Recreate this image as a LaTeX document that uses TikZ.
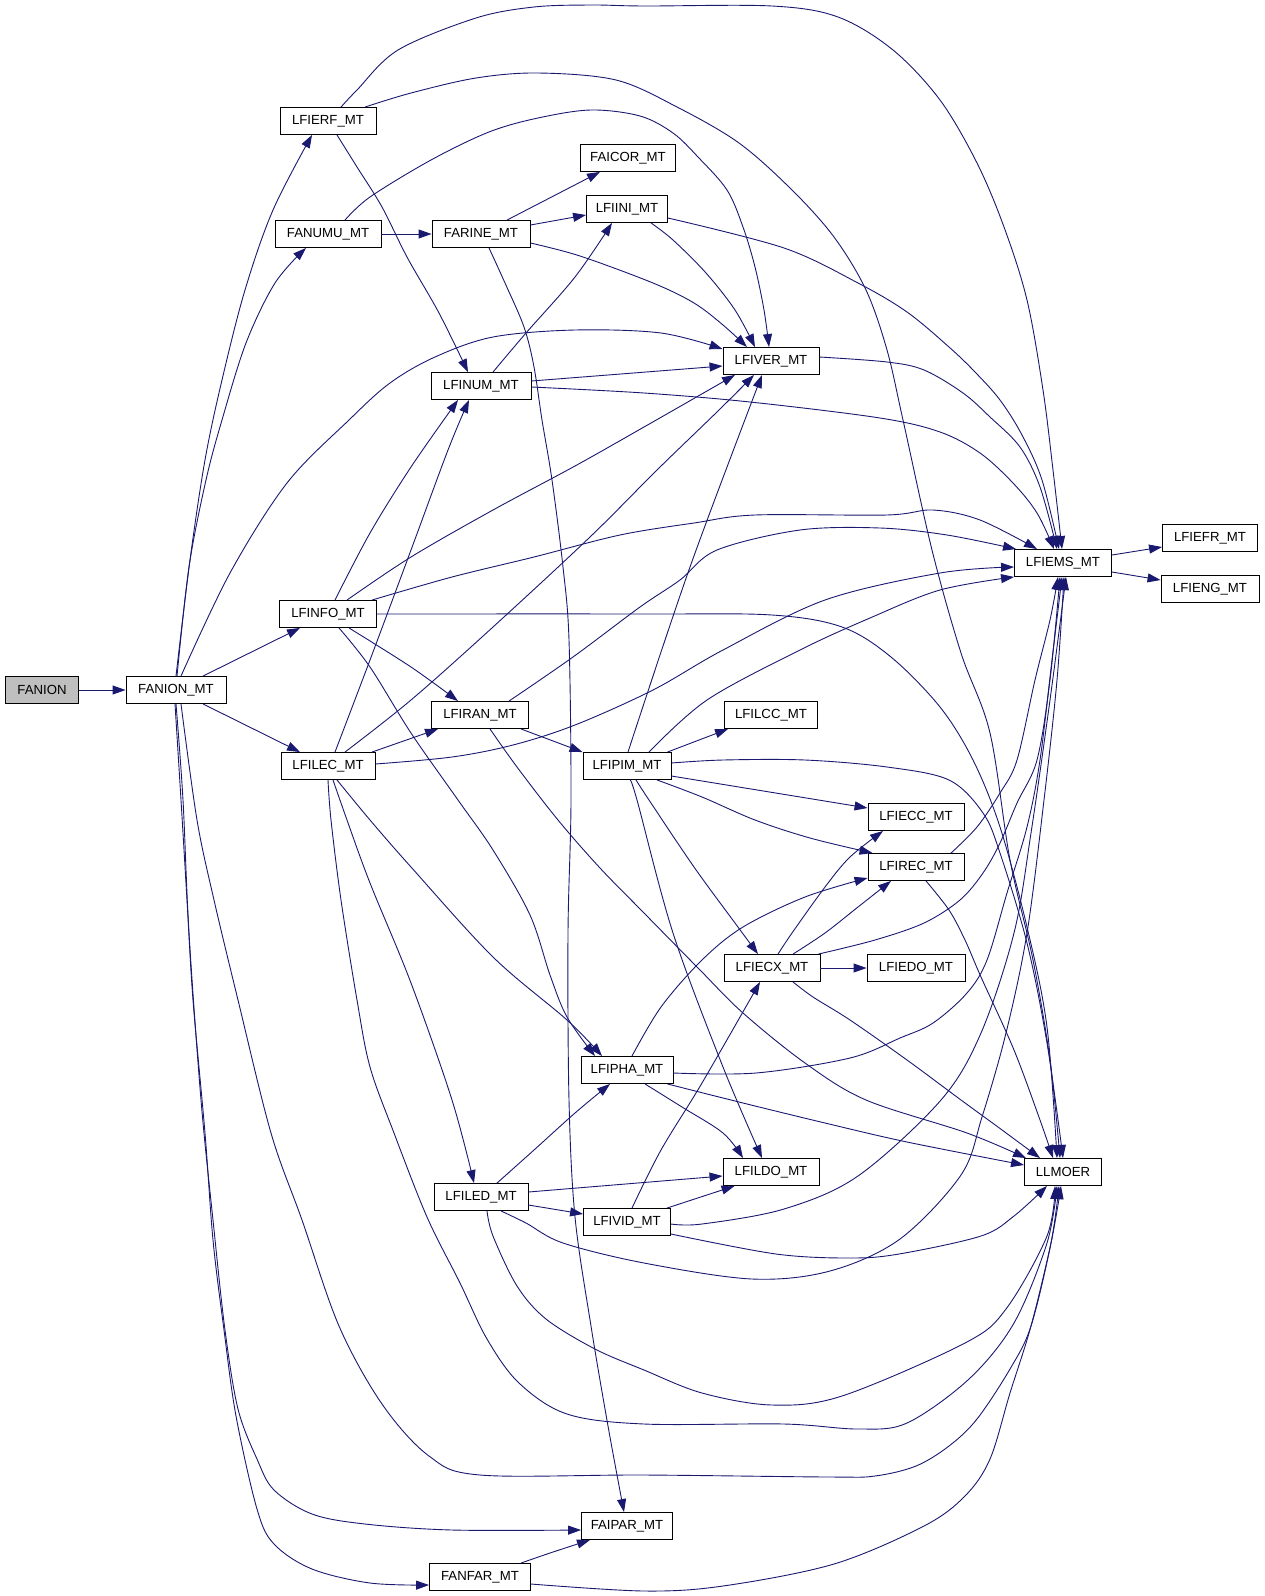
\documentclass[tikz,border=0pt]{standalone}
\usepackage{fontspec}
\setmainfont{Liberation Sans}
\usetikzlibrary{arrows.meta}
\definecolor{edgeblue}{HTML}{191970}
\definecolor{rootgray}{HTML}{BFBFBF}
\begin{document}
\begin{tikzpicture}[x=1pt,y=-1pt,
  fn/.style={draw=black, fill=white, line width=0.9pt, minimum height=27pt,
    inner xsep=2pt, inner ysep=0pt, font=\fontsize{13.2}{15}\selectfont, anchor=center},
  e/.style={draw=edgeblue, line width=0.9pt, -{Triangle[length=13pt,width=9pt]}},
  sm/.style={smooth, tension=0.55}]
\useasboundingbox (0,0) rectangle (1264,1596);
% nodes
\node[fn, minimum width=73pt, fill=rootgray] (fanion) at (42,690) {FANION};
\node[fn, minimum width=100pt] (fanionmt) at (176,690) {FANION\_MT};
\node[fn, minimum width=96pt] (lfierf) at (328,121) {LFIERF\_MT};
\node[fn, minimum width=106pt] (fanumu) at (328,234) {FANUMU\_MT};
\node[fn, minimum width=98pt] (farine) at (481,234) {FARINE\_MT};
\node[fn, minimum width=95pt] (faicor) at (628,158) {FAICOR\_MT};
\node[fn, minimum width=81pt] (lfiini) at (627,209) {LFIINI\_MT};
\node[fn, minimum width=96pt] (lfiver) at (771,361) {LFIVER\_MT};
\node[fn, minimum width=100pt] (lfinum) at (481,386) {LFINUM\_MT};
\node[fn, minimum width=97pt] (lfiems) at (1063,563) {LFIEMS\_MT};
\node[fn, minimum width=95pt] (lfiefr) at (1210,538) {LFIEFR\_MT};
\node[fn, minimum width=98pt] (lfieng) at (1210,589) {LFIENG\_MT};
\node[fn, minimum width=97pt] (lfinfo) at (328,614) {LFINFO\_MT};
\node[fn, minimum width=97pt] (lfiran) at (480,715) {LFIRAN\_MT};
\node[fn, minimum width=94pt] (lfilec) at (328,766) {LFILEC\_MT};
\node[fn, minimum width=93pt] (lfilcc) at (771,715) {LFILCC\_MT};
\node[fn, minimum width=88pt] (lfipim) at (627,766) {LFIPIM\_MT};
\node[fn, minimum width=96pt] (lfiecc) at (916,817) {LFIECC\_MT};
\node[fn, minimum width=96pt] (lfirec) at (916,867) {LFIREC\_MT};
\node[fn, minimum width=96pt] (lfiecx) at (772,968) {LFIECX\_MT};
\node[fn, minimum width=98pt] (lfiedo) at (916,968) {LFIEDO\_MT};
\node[fn, minimum width=92pt] (lfipha) at (627,1070) {LFIPHA\_MT};
\node[fn, minimum width=77pt] (llmoer) at (1063,1172) {LLMOER};
\node[fn, minimum width=96pt] (lfildo) at (771,1172) {LFILDO\_MT};
\node[fn, minimum width=94pt] (lfiled) at (481,1197) {LFILED\_MT};
\node[fn, minimum width=87pt] (lfivid) at (627,1222) {LFIVID\_MT};
\node[fn, minimum width=91pt] (faipar) at (627,1526) {FAIPAR\_MT};
\node[fn, minimum width=101pt] (fanfar) at (480,1577) {FANFAR\_MT};
% edges from FANION / FANION_MT
\draw[e] (fanion) -- (fanionmt);
\draw[e] plot[sm] coordinates {(fanionmt.north) (190,560) (205,460) (222,380) (245,290) (273,210) ([xshift=-16pt]lfierf.south)};
\draw[e] plot[sm] coordinates {([xshift=1pt]fanionmt.north) (189,567) (206,480) (222,420) (246,343) (275,283) ([xshift=-22pt]fanumu.south)};
\draw[e] plot[sm] coordinates {([xshift=5pt]fanionmt.north) (230,573) (287,483) (349,420) (390,383) (435,357) (493,337) (575,330) (661,333) ([yshift=-2pt]lfiver.north west)};
\draw[e] ([xshift=27pt]fanionmt.north) -- ([xshift=-28pt]lfinfo.south);
\draw[e] ([xshift=27pt]fanionmt.south) -- ([xshift=-28pt]lfilec.north);
\draw[e] plot[sm] coordinates {([xshift=5pt]fanionmt.south) (197,820) (214,900) (238,1000) (271,1133) (302,1220) (339,1326) (382,1404) (429,1456) (480,1475) (644,1475) (829,1477) (875,1476) (916,1466) (949,1446) (977,1419) (1010,1369) (1031,1326) (1051,1243) ([xshift=-4pt]llmoer.south)};
\draw[e] plot[sm] coordinates {(fanionmt.south) (183,800) (189,933) (201,1100) (213,1220) (225,1330) (238,1409) (257,1459) (274,1490) (312,1514) (365,1524) (452,1530) ([yshift=-4pt]faipar.west)};
\draw[e] plot[sm] coordinates {([xshift=-1pt]fanionmt.south) (181,800) (187,900) (193,1000) (205,1133) (213,1240) (224,1330) (236,1416) (257,1509) (274,1544) (312,1569) (370,1583) ([yshift=-8pt]fanfar.west)};
% LFIERF
\draw[e] plot[sm] coordinates {([xshift=13pt]lfierf.north) (357,90) (398,50) (476,18) (534,7) (591,5) (644,6) (772,6) (838,17) (893,50) (940,100) (977,163) (1004,227) (1027,300) (1043,390) (1053,470) ([xshift=-1pt]lfiems.north)};
\draw[e] plot[sm] coordinates {([xshift=37pt]lfierf.north) (411,93) (476,78) (538,73) (616,80) (677,107) (739,143) (792,190) (834,237) (866,290) (887,350) (903,420) (932,550) (961,653) (990,733) (1010,860) (1033,960) (1050,1060) ([xshift=-3pt]llmoer.north)};
\draw[e] plot[sm] coordinates {([xshift=9pt]lfierf.south) (357,167) (382,207) (407,257) (439,313) ([xshift=-13pt]lfinum.north)};
% FANUMU
\draw[e] (fanumu) -- (farine);
\draw[e] plot[sm] coordinates {([xshift=17pt]fanumu.north) (370,197) (431,160) (489,132) (538,118) (591,110) (640,116) (673,133) (698,157) (727,190) (743,227) (755,267) (764,310) ([xshift=-2pt]lfiver.north)};
% FARINE
\draw[e] ([xshift=26pt]farine.north) -- ([xshift=-28pt]faicor.south);
\draw[e] ([yshift=9pt]farine.east) -- ([yshift=-6pt]lfiini.west);
\draw[e] plot[sm] coordinates {([yshift=-9pt]farine.east) (580,256) (653,283) (694,303) (723,325) ([xshift=-24pt]lfiver.north)};
\draw[e] plot[sm] coordinates {([xshift=8pt]farine.south) (505,283) (524,327) (534,367) (542,420) (552,480) (563,567) (569,640) (571,800) (568,933) (569,1100) (575,1217) (591,1326) (608,1426) ([xshift=-3pt]faipar.north)};
% LFIINI
\draw[e] plot[sm] coordinates {([xshift=24pt]lfiini.south) (673,240) (706,273) (735,310) ([xshift=-16pt]lfiver.north)};
\draw[e] plot[sm] coordinates {([yshift=-9pt]lfiini.east) (784,248) (858,283) (907,312) (949,347) (975,372) (1000,400) (1022,435) (1042,480) ([xshift=-4pt]lfiems.north)};
% LFINUM
\draw[e] plot[sm] coordinates {([xshift=12pt]lfinum.north) (526,333) (575,277) ([xshift=-15pt]lfiini.south)};
\draw[e] ([yshift=5pt]lfinum.east) -- ([yshift=-5pt]lfiver.west);
\draw[e] plot[sm] coordinates {([yshift=-1pt]lfinum.east) (644,393) (750,402) (880,418) (940,432) (980,453) (1013,483) (1037,513) ([xshift=-9pt]lfiems.north)};
% LFIVER
\draw[e] plot[sm] coordinates {([yshift=4pt]lfiver.east) (887,362) (924,370) (963,393) (990,417) (1020,447) (1040,487) ([xshift=-6pt]lfiems.north)};
% LFIEMS
\draw[e] ([yshift=8pt]lfiems.east) -- ([yshift=-9pt]lfiefr.west);
\draw[e] ([yshift=-9pt]lfiems.east) -- ([yshift=9pt]lfieng.west);
% LFINFO
\draw[e] plot[sm] coordinates {([xshift=7pt]lfinfo.north) (370,533) (411,467) ([xshift=-23pt]lfinum.south)};
\draw[e] plot[sm] coordinates {([xshift=19pt]lfinfo.north) (411,557) (493,510) (575,466) (644,427) ([xshift=-36pt]lfiver.south)};
\draw[e] plot[sm] coordinates {([xshift=44pt]lfinfo.north) (452,577) (534,557) (620,535) (694,523) (755,515) (887,515) (933,510) (980,520) ([xshift=-26pt]lfiems.north)};
\draw[e] plot[sm] coordinates {(lfinfo.east) (644,614) (772,615) (842,627) (891,657) (940,707) (973,760) (1000,827) (1027,927) (1047,1027) ([xshift=-6pt]llmoer.north)};
\draw[e] plot[sm] coordinates {([xshift=21pt]lfinfo.south) (411,667) ([xshift=-22pt]lfiran.north)};
\draw[e] plot[sm] coordinates {([xshift=11pt]lfinfo.south) (370,667) (411,733) (458,800) (493,850) (530,915) (550,975) (567,1017) ([xshift=-32pt]lfipha.north)};
% LFILEC
\draw[e] plot[sm] coordinates {([xshift=7pt]lfilec.north) (370,660) (411,550) (448,450) ([xshift=-12pt]lfinum.south)};
\draw[e] plot[sm] coordinates {([xshift=17pt]lfilec.north) (411,700) (493,627) (590,537) (657,470) (719,410) ([xshift=-17pt]lfiver.south)};
\draw[e] ([xshift=44pt]lfilec.north) -- ([xshift=-42pt]lfiran.south);
\draw[e] plot[sm] coordinates {([yshift=2pt]lfilec.east) (452,757) (513,745) (575,725) (653,690) (723,650) (825,600) (940,573) ([yshift=-4pt]lfiems.west)};
\draw[e] plot[sm] coordinates {([xshift=5pt]lfilec.south) (347,820) (370,883) (411,983) (452,1100) ([xshift=-7pt]lfiled.north)};
\draw[e] plot[sm] coordinates {([xshift=9pt]lfilec.south) (370,820) (411,867) (493,957) (567,1020) ([xshift=-25pt]lfipha.north)};
\draw[e] plot[sm] coordinates {(lfilec.south) (331,820) (341,900) (357,1000) (370,1067) (394,1133) (427,1217) (460,1283) (487,1339) (519,1383) (567,1414) (644,1424) (784,1424) (858,1429) (907,1423) (969,1379) (1014,1323) (1047,1243) ([xshift=-6pt]llmoer.south)};
% LFIRAN
\draw[e] plot[sm] coordinates {([xshift=29pt]lfiran.north) (573,657) (640,607) (680,580) (717,550) (800,530) (880,528) (947,535) ([xshift=2pt]lfiems.north west)};
\draw[e] ([xshift=-8pt]lfiran.south east) -- (lfipim.north west);
\draw[e] plot[sm] coordinates {([xshift=10pt]lfiran.south) (517,767) (558,820) (600,868) (644,913) (700,970) (743,1013) (805,1063) (866,1100) (967,1133) ([xshift=2pt]llmoer.north west)};
% LFIPIM
\draw[e] plot[sm] coordinates {([xshift=1pt]lfipim.north) (690,567) ([xshift=-9pt]lfiver.south)};
\draw[e] plot[sm] coordinates {([xshift=22pt]lfipim.north) (707,700) (800,650) (870,618) (940,590) (lfiems.south west)};
\draw[e] ([xshift=-4pt]lfipim.north east) -- ([xshift=4pt]lfilcc.south west);
\draw[e] plot[sm] coordinates {([yshift=3pt]lfipim.east) (723,760) (805,760) (887,767) (949,780) (983,813) (1000,853) (1027,943) (1047,1043) (llmoer.north)};
\draw[e] ([yshift=-10pt]lfipim.east) -- ([yshift=9pt]lfiecc.west);
\draw[e] plot[sm] coordinates {([xshift=30pt]lfipim.south) (702,797) (755,820) (810,838) ([xshift=5pt]lfirec.north west)};
\draw[e] plot[sm] coordinates {([xshift=9pt]lfipim.south) (649,800) (694,867) (735,923) ([xshift=-14pt]lfiecx.north)};
\draw[e] plot[sm] coordinates {([xshift=3pt]lfipim.south) (637,800) (673,933) (723,1067) ([xshift=-9pt]lfildo.north)};
% LFIREC
\draw[e] plot[sm] coordinates {([xshift=35pt]lfirec.north) (977,827) (1000,793) (1017,760) (1035,680) (1050,620) ([xshift=-5pt]lfiems.south)};
\draw[e] plot[sm] coordinates {([xshift=10pt]lfirec.south) (949,910) (965,940) (981,977) (1014,1050) (1040,1120) ([xshift=-10pt]llmoer.north)};
% LFIECX
\draw[e] plot[sm] coordinates {([xshift=6pt]lfiecx.north) (792,933) (825,887) (850,857) ([xshift=-33pt]lfiecc.south)};
\draw[e] plot[sm] coordinates {([xshift=21pt]lfiecx.north) (825,933) (858,907) ([xshift=-25pt]lfirec.south)};
\draw[e] (lfiecx) -- (lfiedo);
\draw[e] plot[sm] coordinates {([xshift=-2pt]lfiecx.north east) (875,940) (924,923) (960,900) (983,873) (1000,843) (1017,803) (1037,760) (1050,680) ([xshift=-3pt]lfiems.south)};
\draw[e] plot[sm] coordinates {([xshift=21pt]lfiecx.south) (813,997) (850,1020) (907,1060) (961,1100) (998,1127) ([xshift=-23pt]llmoer.north)};
% LFIPHA
\draw[e] plot[sm] coordinates {([xshift=5pt]lfipha.north) (661,1007) (702,960) (743,927) (805,897) ([yshift=-11pt]lfirec.west)};
\draw[e] plot[sm] coordinates {([yshift=-3pt]lfipha.east) (756,1073) (850,1058) (900,1038) (933,1023) (967,993) (987,960) (1007,893) (1027,827) (1040,760) (1052,660) ([xshift=-1pt]lfiems.south)};
\draw[e] plot[sm] coordinates {([xshift=18pt]lfipha.south) (682,1107) (723,1133) ([xshift=-28pt]lfildo.north)};
\draw[e] plot[sm] coordinates {([xshift=-6pt]lfipha.south east) (743,1103) (825,1123) (907,1142) ([yshift=7pt]llmoer.west)};
% LFILED
\draw[e] plot[sm] coordinates {([xshift=16pt]lfiled.north) (534,1150) (575,1113) ([xshift=-17pt]lfipha.south)};
\draw[e] ([yshift=5pt]lfiled.east) -- ([yshift=-4pt]lfildo.west);
\draw[e] ([yshift=-8pt]lfiled.east) -- ([yshift=8pt]lfivid.west);
\draw[e] plot[sm] coordinates {([xshift=20pt]lfiled.south) (526,1223) (563,1243) (644,1263) (752,1279) (830,1271) (900,1239) (961,1175) (982,1117) (1006,1033) (1027,933) (1044,800) (1057,680) ([xshift=1pt]lfiems.south)};
\draw[e] plot[sm] coordinates {([xshift=6pt]lfiled.south) (493,1236) (517,1286) (546,1319) (595,1349) (644,1370) (702,1393) (772,1405) (842,1396) (965,1343) (1006,1309) (1047,1236) ([xshift=-8pt]llmoer.south)};
% LFIVID
\draw[e] ([xshift=-4pt]lfivid.north east) -- ([xshift=12pt]lfildo.south west);
\draw[e] plot[sm] coordinates {([xshift=5pt]lfivid.north) (661,1150) (702,1083) ([xshift=-12pt]lfiecx.south)};
\draw[e] plot[sm] coordinates {([yshift=-2pt]lfivid.east) (702,1224) (784,1209) (858,1176) (941,1100) (981,1033) (1014,933) (1031,833) (1050,700) ([xshift=3pt]lfiems.south)};
\draw[e] plot[sm] coordinates {([yshift=-12pt]lfivid.east) (776,1254) (850,1258) (899,1254) (981,1236) (1014,1216) ([xshift=-16pt]llmoer.south)};
% FANFAR
\draw[e] plot[sm] coordinates {([xshift=41pt]fanfar.north) (550,1553) ([xshift=-37pt]faipar.south)};
\draw[e] plot[sm] coordinates {([yshift=-7pt]fanfar.east) (644,1591) (723,1586) (834,1564) (924,1526) (965,1496) (990,1459) (1010,1393) (1031,1326) (1051,1243) ([xshift=-2pt]llmoer.south)};
\end{tikzpicture}
\end{document}
